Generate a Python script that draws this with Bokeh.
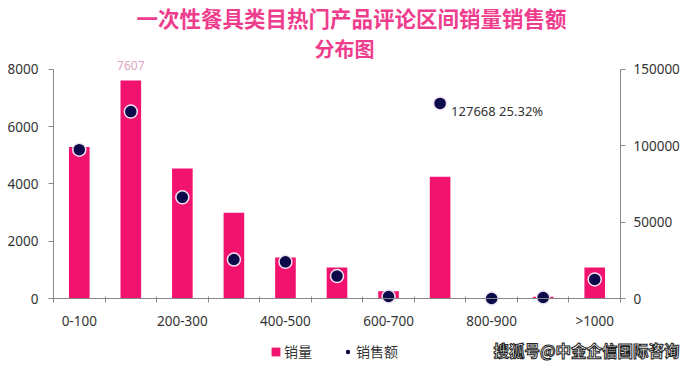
from bokeh.plotting import figure
from bokeh.layouts import column
from bokeh.models import (ColumnDataSource, Range1d, LinearAxis, FixedTicker,
                          BasicTickFormatter, Label, Legend, LegendItem, Span)
from bokeh.embed import file_html
from bokeh.resources import INLINE

# ---- data ----
categories = ["0-100", "100-200", "200-300", "300-400", "400-500", "500-600",
              "600-700", "700-800", "800-900", "900-1000", ">1000"]
sales_volume = [5290, 7607, 4540, 2990, 1430, 1080, 250, 4250, 20, 60, 1080]
sales_amount = [97400, 122300, 66200, 25500, 24000, 14700, 1300, 127668, 0, 700, 12500]
left_ticks = [0, 2000, 4000, 6000, 8000]
right_ticks = [0, 50000, 100000, 150000]
title_line1 = "一次性餐具类目热门产品评论区间销量销售额"
title_line2 = "分布图"
peak_note = "127668  25.32%"
legend_labels = ["销量", "销售额"]
watermark = "搜狐号@中金企信国际咨询"

BAR = "#f2136f"
DOT = "#0c0a48"
DOT_EDGE = "#efe3f3"
TITLE = "#ef3d8e"
AXIS = "#888888"
TEXT = "#333333"

# main frame spans y 0..307 px; zero line at 299 px, 8000 at 69 px
LEFT_MAX, RIGHT_MAX = 8000, 150000
u = LEFT_MAX / 230.0
left_range = Range1d(-8 * u, LEFT_MAX + 69 * u)
k = RIGHT_MAX / LEFT_MAX
right_range = Range1d(-8 * u * k, (LEFT_MAX + 69 * u) * k)

xs = [i + 0.5 for i in range(len(categories))]
src = ColumnDataSource(dict(x=xs, cat=categories, vol=sales_volume, amt=sales_amount))

p = figure(width=693, height=332, output_backend="svg", toolbar_location=None,
           title=None, x_range=Range1d(0, len(categories)), y_range=left_range,
           min_border_left=53, min_border_right=73, min_border_top=0,
           min_border_bottom=25)
p.extra_y_ranges = {"right": right_range}
p.outline_line_color = None
p.grid.visible = False

bars = p.vbar(x="x", top="vol", width=0.4, source=src, fill_color=BAR, line_color=None)
dots = p.scatter(x="x", y="amt", size=13, source=src, fill_color=DOT,
                 line_color=DOT_EDGE, line_width=1.5, y_range_name="right")

# zero line (x axis line)
p.add_layout(Span(location=0, dimension="width", line_color=AXIS, line_width=1))

# x axis: labels at every other category, ticks at category boundaries
label_pos = [xs[i] for i in range(0, len(categories), 2)]
xa = p.xaxis[0]
xa.ticker = FixedTicker(ticks=label_pos, minor_ticks=list(range(len(categories) + 1)))
xa.major_label_overrides = {xs[i]: categories[i] for i in range(0, len(categories), 2)}
xa.axis_line_color = None
xa.major_tick_line_color = None
xa.major_tick_out = 0
xa.major_tick_in = 0
xa.minor_tick_in = 10
xa.minor_tick_out = -4
xa.minor_tick_line_color = AXIS
xa.major_label_standoff = 5
xa.major_label_text_font = "Noto Sans"
xa.major_label_text_font_size = "13.5px"
xa.major_label_text_color = TEXT

ya = p.yaxis[0]
ya.ticker = FixedTicker(ticks=left_ticks)
ya.bounds = (0, LEFT_MAX)
ya.major_tick_out = 5
ya.major_tick_in = 0
ya.minor_tick_line_color = None
ya.axis_line_color = AXIS
ya.major_tick_line_color = AXIS
ya.major_label_standoff = 10
ya.major_label_text_font = "Noto Sans"
ya.major_label_text_font_size = "13.5px"
ya.major_label_text_color = TEXT

ra = LinearAxis(y_range_name="right", ticker=FixedTicker(ticks=right_ticks),
                formatter=BasicTickFormatter(use_scientific=False), bounds=(0, RIGHT_MAX))
ra.major_tick_out = 5
ra.major_tick_in = 0
ra.minor_tick_line_color = None
ra.axis_line_color = AXIS
ra.major_tick_line_color = AXIS
ra.major_label_standoff = 8
ra.major_label_text_font = "Noto Sans"
ra.major_label_text_font_size = "13.5px"
ra.major_label_text_color = TEXT
p.add_layout(ra, "right")

# annotations
p.add_layout(Label(x=xs[1], y=sales_volume[1], text=str(sales_volume[1]), y_offset=11,
                   text_align="center", text_baseline="bottom", text_font="Noto Sans",
                   text_font_size="12px", text_color="#d9a6c2"))
p.add_layout(Label(x=xs[7], y=sales_amount[7], y_range_name="right", text=peak_note,
                   x_offset=11, y_offset=-8, text_align="left", text_baseline="middle",
                   text_font="Noto Sans", text_font_size="13px", text_color=TEXT))

p.add_layout(Label(x=298, y=289, x_units="screen", y_units="screen", text=title_line1,
                   text_align="center", text_baseline="middle",
                   text_font="Noto Sans CJK SC", text_font_style="bold",
                   text_font_size="21.5px", text_color=TITLE))
p.add_layout(Label(x=291, y=258, x_units="screen", y_units="screen", text=title_line2,
                   text_align="center", text_baseline="middle",
                   text_font="Noto Sans CJK SC", text_font_style="bold",
                   text_font_size="20px", text_color=TITLE))

# ---- bottom strip: legend + watermark ----
p2 = figure(width=693, height=34, output_backend="svg", toolbar_location=None,
            title=None, x_range=Range1d(0, 693), y_range=Range1d(0, 34),
            min_border=0, x_axis_location=None, y_axis_location=None)
p2.outline_line_color = None
p2.grid.visible = False
try:
    p.frame_align = False
    p2.frame_align = False
    x_shift = 0
except Exception:
    x_shift = 53
nan = float("nan")
lg_bar = p2.vbar(x=[nan], top=[nan], width=1, fill_color=BAR, line_color=None)
lg_dot = p2.scatter(x=[nan], y=[nan], size=13, fill_color=DOT, line_color=None)

legend = Legend(items=[LegendItem(label=legend_labels[0], renderers=[lg_bar]),
                       LegendItem(label=legend_labels[1], renderers=[lg_dot])],
                location=(270 - x_shift, 5), orientation="horizontal",
                glyph_width=11, glyph_height=11, label_standoff=3, spacing=30,
                padding=0, margin=0, label_height=14,
                label_text_font="Noto Sans CJK SC", label_text_font_size="14px",
                label_text_color=TEXT, border_line_color=None,
                background_fill_alpha=0)
p2.add_layout(legend, "center")

wm_kwargs = dict(x=493 - x_shift, y=17, text=watermark, text_align="left",
                 text_baseline="middle", text_font="Noto Sans CJK SC",
                 text_font_style="bold", text_font_size="15.5px")
try:
    wm = Label(text_color="white", text_outline_color="#222222", **wm_kwargs)
except Exception:
    wm = Label(text_color=TEXT, **wm_kwargs)
p2.add_layout(wm)

layout = column(p, p2, spacing=0)
open("out.html", "w").write(file_html(layout, INLINE))
